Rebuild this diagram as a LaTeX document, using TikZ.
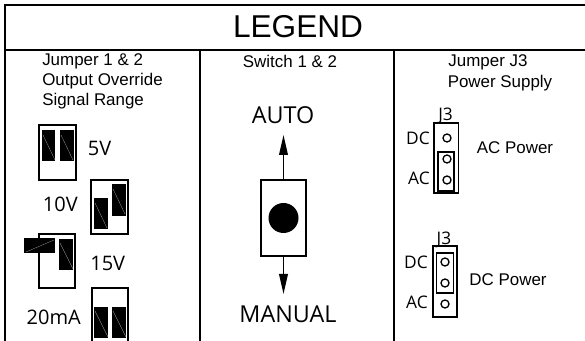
\documentclass[tikz,border=0pt]{standalone}
\usepackage{fontspec}
\setmainfont{Liberation Sans}
\newfontfamily\labelfont{Open Sans}
\usetikzlibrary{arrows.meta}
\tikzset{
  frameline/.style={line width=1.5pt},
  jumperbox/.style={draw, line width=1pt, fill=white},
  headerbox/.style={line width=1.1pt},
  shunt/.style={fill=black},
  shuntmark/.style={gray!70, line width=0.2pt},
  headtext/.style={font=\fontsize{12.7}{14}\selectfont, inner sep=0pt, anchor=base},
  rangetext/.style={font=\labelfont\fontsize{15}{17}\selectfont, inner sep=0pt, anchor=base},
  pintext/.style={font=\labelfont\fontsize{13}{15}\selectfont, inner sep=0pt, anchor=base},
  switchtext/.style={font=\labelfont\fontsize{17.5}{20}\selectfont, inner sep=0pt, anchor=base},
  pin/.style={draw, circle, line width=1pt, minimum size=6pt, inner sep=0pt},
  switcharrow/.style={line width=1.2pt, -{Triangle[length=15pt,width=6.5pt]}},
}
\begin{document}
\begin{tikzpicture}[x=0.75pt, y=-0.75pt, line join=miter]
    \useasboundingbox (0,0) rectangle (585,341);
    % frame
    \draw[frameline] (5,341) -- (5,5) -- (585,5);
    \draw[frameline] (5,50) -- (585,50);
    \draw[frameline] (200,50) -- (200,341);
    \draw[frameline] (394,50) -- (394,341);
    \node[inner sep=0pt, anchor=base, font=\fontsize{23.7}{26}\selectfont] (legend) at (298,38) {LEGEND};

    % column heads
    \node[headtext, anchor=base west] (head1a) at (42,65.7) {Jumper 1 \& 2};
    \node[headtext, anchor=base west] (head1b) at (42,85.7) {Output Override};
    \node[headtext, anchor=base west] (head1c) at (42,105.7) {Signal Range};
    \node[headtext] (head2) at (290,68) {Switch 1 \& 2};
    \node[headtext] (head3a) at (488,67) {Jumper J3};
    \node[headtext] (head3b) at (500,88) {Power Supply};

    % jumper 5V
    \draw[jumperbox] (39,125) rectangle (76,180);
    \fill[shunt] (41.5,130) rectangle (55,161);
    \fill[shunt] (60,130) rectangle (73.5,161);
    \draw[shuntmark] (43,135) -- (55,160) (61,135) -- (73,160);
    \node[rangetext] (r5) at (99.5,156) {5V};

    % jumper 10V
    \draw[jumperbox] (91,180) rectangle (128,234);
    \fill[shunt] (94,198) rectangle (107.5,229);
    \fill[shunt] (112,184) rectangle (125.5,216);
    \draw[shuntmark] (95,203) -- (107,228) (113,189) -- (125,214);
    \node[rangetext] (r10) at (60.3,211.7) {10V};

    % jumper 15V
    \draw[jumperbox] (39,234) rectangle (75,288);
    \fill[shunt] (24,238) rectangle (55,253);
    \fill[shunt] (59,239) rectangle (73,270);
    \draw[shuntmark] (26,252) -- (54,240) (60,243) -- (73,269);
    \node[rangetext] (r15) at (107.7,271) {15V};

    % jumper 20mA
    \draw[jumperbox] (92,288) rectangle (128,345);
    \fill[shunt] (94,307) rectangle (108,338);
    \fill[shunt] (112,307) rectangle (126,338);
    \draw[shuntmark] (95,311) -- (108,337) (113,311) -- (126,337);
    \node[rangetext] (r20) at (53.8,325) {20mA};

    % switch
    \coordinate (autotip) at (283.5,135);
    \coordinate (manualtip) at (283.5,294);
    \node[draw, line width=1.1pt, minimum width=33.75pt, minimum height=57pt, inner sep=0pt] (switch) at (283.5,218) {};
    \fill (switch.center) circle (15);
    \draw[switcharrow] (switch.north) -- (autotip);
    \draw[switcharrow] (switch.south) -- (manualtip);
    \node[switchtext] (auto) at (283,123.3) {AUTO};
    \node[switchtext] (manual) at (288,323) {MANUAL};

    % J3 on AC
    \draw[headerbox] (434,123) rectangle (458.5,193);
    \draw[headerbox] (438,152) rectangle (454,191);
    \foreach \y in {138,159,180} \node[pin] at (447,\y) {};
    \node[pintext] (j3a) at (445.6,120.7) {J3};
    \node[pintext, anchor=base east] (dca) at (430,145) {DC};
    \node[pintext, anchor=base east] (aca) at (430,185) {AC};
    \node[headtext] (acpower) at (515,154) {AC Power};

    % J3 on DC
    \draw[headerbox] (433,246) rectangle (457,317);
    \draw[headerbox] (436.5,253) rectangle (453.5,293);
    \foreach \y in {262,283,304} \node[pin] at (445,\y) {};
    \node[pintext] (j3b) at (444,245) {J3};
    \node[pintext, anchor=base east] (dcb) at (428,269) {DC};
    \node[pintext, anchor=base east] (acb) at (428,309) {AC};
    \node[headtext] (dcpower) at (508,286) {DC Power};
\end{tikzpicture}
\end{document}
